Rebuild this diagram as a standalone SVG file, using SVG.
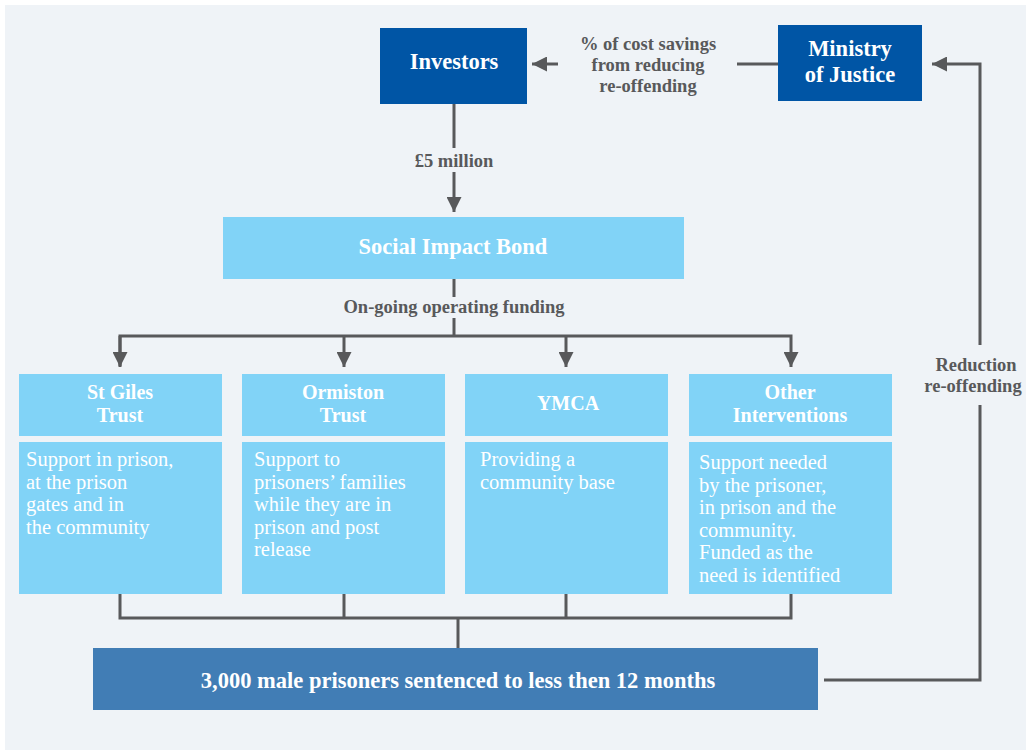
<svg xmlns="http://www.w3.org/2000/svg" width="1026" height="754" viewBox="0 0 1026 754">
<defs>
<style>
.bg{fill:#eff3f7}
.dark{fill:#0055a5}
.light{fill:#81d3f7}
.mid{fill:#417db5}
.t{font-family:"Liberation Serif","DejaVu Serif",serif;fill:#ffffff}
.h{font-weight:bold;font-size:20px;text-anchor:middle}
.big{font-weight:bold;font-size:22.5px;text-anchor:middle}
.body{font-size:20.5px}
.lbl{font-family:"Liberation Serif","DejaVu Serif",serif;font-weight:bold;font-size:18.5px;fill:#58595b;text-anchor:middle}
.ln{fill:none;stroke:#58595b;stroke-width:3}
</style>
<marker id="ah" viewBox="0 0 10 10" refX="10" refY="5" markerWidth="5" markerHeight="5" markerUnits="strokeWidth" orient="auto">
<path d="M0,0 L10,5 L0,10 Z" fill="#58595b"/>
</marker>
</defs>
<rect x="0" y="0" width="1026" height="754" fill="#ffffff"/>
<rect class="bg" x="5" y="5" width="1021" height="745"/>

<g id="connectors">
<line class="ln" x1="778" y1="64" x2="737" y2="64"/>
<line class="ln" x1="558" y1="64" x2="532" y2="64" marker-end="url(#ah)"/>
<text class="lbl" x="648" y="50">% of cost savings</text>
<text class="lbl" x="648" y="71">from reducing</text>
<text class="lbl" x="648" y="92">re-offending</text>

<line class="ln" x1="454" y1="104" x2="454" y2="148"/>
<line class="ln" x1="454" y1="172" x2="454" y2="212" marker-end="url(#ah)"/>
<text class="lbl" x="454" y="167">£5 million</text>

<line class="ln" x1="454" y1="279" x2="454" y2="297"/>
<text class="lbl" x="454" y="313">On-going operating funding</text>
<polyline class="ln" points="454,318 454,336"/>
<polyline class="ln" points="120,366 120,336 791,336 791,367" marker-end="url(#ah)"/>
<line class="ln" x1="120" y1="336" x2="120" y2="367" marker-end="url(#ah)"/>
<line class="ln" x1="344" y1="336" x2="344" y2="367" marker-end="url(#ah)"/>
<line class="ln" x1="566" y1="336" x2="566" y2="367" marker-end="url(#ah)"/>

<polyline class="ln" points="120,594 120,618 791,618 791,594"/>
<line class="ln" x1="344" y1="594" x2="344" y2="618"/>
<line class="ln" x1="566" y1="594" x2="566" y2="618"/>
<line class="ln" x1="458" y1="618" x2="458" y2="648"/>

<polyline class="ln" points="824,680 980,680 980,405"/>
<polyline class="ln" points="980,345 980,64 932,64" marker-end="url(#ah)"/>
<text class="lbl" x="976" y="371">Reduction</text>
<text class="lbl" x="973" y="392">re-offending</text>
</g>

<g id="investors">
<rect class="dark" x="380" y="28" width="147" height="76"/>
<text class="t big" x="454" y="69">Investors</text>
</g>

<g id="ministry">
<rect class="dark" x="778" y="25" width="144" height="76"/>
<text class="t big" x="850" y="56">Ministry</text>
<text class="t big" x="850" y="82">of Justice</text>
</g>

<g id="sib">
<rect class="light" x="223" y="217" width="461" height="62"/>
<text class="t big" x="453" y="254">Social Impact Bond</text>
</g>

<g id="stgiles">
<rect class="light" x="19" y="374" width="203" height="62"/>
<rect class="light" x="19" y="442" width="203" height="152"/>
<text class="t h" x="120" y="399">St Giles</text>
<text class="t h" x="120" y="422">Trust</text>
<text class="t body" x="26" y="466">Support in prison,</text>
<text class="t body" x="26" y="489">at the prison</text>
<text class="t body" x="26" y="511">gates and in</text>
<text class="t body" x="26" y="534">the community</text>
</g>

<g id="ormiston">
<rect class="light" x="242" y="374" width="203" height="62"/>
<rect class="light" x="242" y="442" width="203" height="152"/>
<text class="t h" x="343" y="399">Ormiston</text>
<text class="t h" x="343" y="422">Trust</text>
<text class="t body" x="254" y="466">Support to</text>
<text class="t body" x="254" y="489">prisoners’ families</text>
<text class="t body" x="254" y="511">while they are in</text>
<text class="t body" x="254" y="534">prison and post</text>
<text class="t body" x="254" y="556">release</text>
</g>

<g id="ymca">
<rect class="light" x="465" y="374" width="203" height="62"/>
<rect class="light" x="465" y="442" width="203" height="152"/>
<text class="t h" x="568" y="410">YMCA</text>
<text class="t body" x="480" y="466">Providing a</text>
<text class="t body" x="480" y="489">community base</text>
</g>

<g id="other">
<rect class="light" x="689" y="374" width="203" height="62"/>
<rect class="light" x="689" y="442" width="203" height="152"/>
<text class="t h" x="790" y="399">Other</text>
<text class="t h" x="790" y="422">Interventions</text>
<text class="t body" x="699" y="469">Support needed</text>
<text class="t body" x="699" y="492">by the prisoner,</text>
<text class="t body" x="699" y="514">in prison and the</text>
<text class="t body" x="699" y="537">community.</text>
<text class="t body" x="699" y="559">Funded as the</text>
<text class="t body" x="699" y="582">need is identified</text>
</g>

<g id="prisoners">
<rect class="mid" x="93" y="648" width="725" height="62"/>
<text class="t big" x="458" y="688">3,000 male prisoners sentenced to less then 12 months</text>
</g>
</svg>
